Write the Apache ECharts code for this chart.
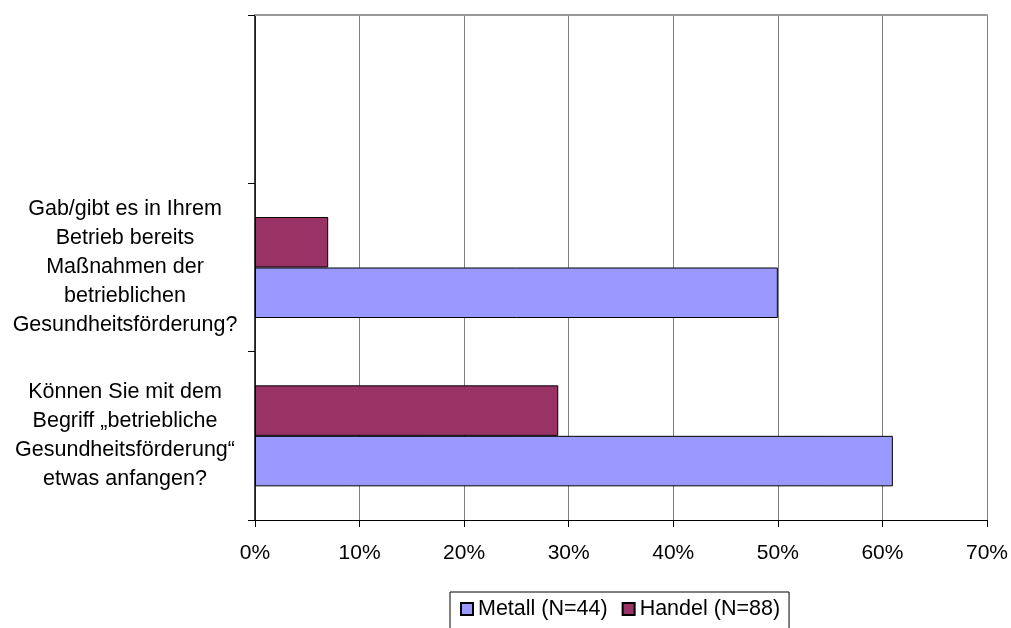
<!DOCTYPE html>
<html>
<head>
<meta charset="utf-8">
<script src="https://cdn.jsdelivr.net/npm/echarts@6/dist/echarts.min.js"></script>
<style>
  html, body { margin: 0; padding: 0; background: #fff; }
  #chart { width: 1011px; height: 628px; }
</style>
</head>
<body>
<div id="chart"></div>
<script>
// Survey questions (bottom to top); the top slot stays empty
const categories = [
  'Können Sie mit dem\nBegriff „betriebliche\nGesundheitsförderung“\netwas anfangen?',
  'Gab/gibt es in Ihrem\nBetrieb bereits\nMaßnahmen der\nbetrieblichen\nGesundheitsförderung?',
  ''
];
// Share of "yes" answers in percent
const metall = [61, 50, null];
const handel = [29, 7, null];
const seriesNames = ['Metall (N=44)', 'Handel (N=88)'];
const xTicks = { min: 0, max: 70, step: 10 };

const FONT = '"Liberation Sans", Arial, sans-serif';

const chart = echarts.init(document.getElementById('chart'), null, { renderer: 'canvas' });

const barBase = { type: 'bar', barGap: '0%', barCategoryGap: '40%' };

chart.setOption({
  animation: false,
  backgroundColor: '#ffffff',
  textStyle: { fontFamily: FONT, color: '#000' },
  grid: { left: 255, right: 23, top: 15, bottom: 108, containLabel: false },
  legend: {
    data: seriesNames,
    left: 450,
    top: 592,
    orient: 'horizontal',
    itemWidth: 12,
    itemHeight: 12,
    itemGap: 14,
    padding: [6, 9, 14, 10],
    borderColor: '#000',
    borderWidth: 1,
    icon: 'rect',
    textStyle: { fontFamily: FONT, fontSize: 21.5, color: '#000' }
  },
  xAxis: [
    {
      type: 'value',
      min: xTicks.min,
      max: xTicks.max,
      interval: xTicks.step,
      position: 'bottom',
      axisLine: { show: true, lineStyle: { color: '#000', width: 1 } },
      axisTick: { show: true, length: 7, lineStyle: { color: '#000' } },
      axisLabel: {
        formatter: '{value}%',
        fontFamily: FONT,
        fontSize: 21,
        color: '#000',
        margin: 23
      },
      splitLine: { show: true, lineStyle: { color: '#808080', width: 1 } }
    },
    {
      // plot area frame along the top edge
      type: 'value',
      min: xTicks.min,
      max: xTicks.max,
      position: 'top',
      axisLine: { show: true, lineStyle: { color: '#9a9a9a', width: 2 } },
      axisTick: { show: false },
      axisLabel: { show: false },
      splitLine: { show: false }
    }
  ],
  yAxis: {
    type: 'category',
    data: categories,
    axisLine: { show: true, lineStyle: { color: '#000', width: 1.5 } },
    axisTick: { show: true, length: 7, lineStyle: { color: '#000' } },
    axisLabel: {
      fontFamily: FONT,
      fontSize: 21.5,
      lineHeight: 29,
      color: '#000',
      align: 'center',
      margin: 130
    },
    splitLine: { show: false }
  },
  // Handel listed first so its bar sits above Metall within each question
  series: [
    Object.assign({}, barBase, {
      name: seriesNames[1],
      data: handel,
      itemStyle: { color: '#993366', borderColor: '#000', borderWidth: 1 }
    }),
    Object.assign({}, barBase, {
      name: seriesNames[0],
      data: metall,
      itemStyle: { color: '#9999ff', borderColor: '#000', borderWidth: 1 }
    })
  ]
});
</script>
</body>
</html>
